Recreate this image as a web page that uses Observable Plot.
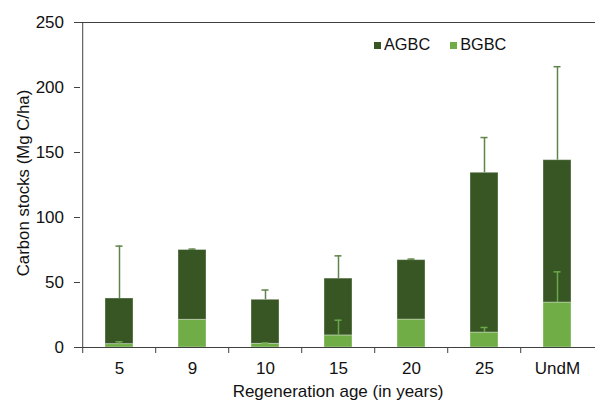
<!DOCTYPE html>
<html>
<head>
<meta charset="utf-8">
<script src="https://cdn.jsdelivr.net/npm/d3@7"></script>
<script src="https://cdn.jsdelivr.net/npm/@observablehq/plot@0.6"></script>
<style>
  html, body { margin: 0; padding: 0; background: #fff; }
  #wrap { position: relative; width: 595px; height: 402px; font-family: "Liberation Sans", Arial, sans-serif; color: #111; }
  .ytitle { position: absolute; left: 24px; top: 183px; transform: translate(-50%, -50%) rotate(-90deg); font-size: 16.8px; line-height: 1; white-space: nowrap; }
  .xtitle { position: absolute; left: 338px; top: 382.5px; transform: translateX(-50%); font-size: 17px; line-height: 1; white-space: nowrap; }
  .legend { position: absolute; left: 374px; top: 35.5px; font-size: 16.3px; line-height: 1; display: flex; gap: 20px; white-space: nowrap; }
  .legend span.sw { display: inline-block; width: 7px; height: 7px; margin-right: 3px; vertical-align: 1px; }
</style>
</head>
<body>
<div id="wrap"></div>
<script>
const categories = ["5", "9", "10", "15", "20", "25", "UndM"];
const seriesNames = ["AGBC", "BGBC"];
const seriesColors = ["#375623", "#70AD47"];
const bgbc = [2.6, 21.3, 2.8, 9.3, 21.5, 11.5, 34.6];
const agbc = [35.1, 53.7, 33.9, 43.7, 45.7, 122.9, 109.5];
const agbcErr = [40.3, 0.7, 7.5, 17.5, 0.8, 27.1, 71.9];
const bgbcErr = [1.8, 0, 0.7, 11.7, 0, 3.9, 23.6];
const yTicks = [0, 50, 100, 150, 200, 250];
const xTitle = "Regeneration age (in years)";
const yTitle = "Carbon stocks (Mg C/ha)";

const W = 595, H = 402, ML = 80, MR = 0, MT = 22, MB = 55;
const step = (W - ML - MR) / categories.length;
const pInner = 0.62;
const bandW = step * (1 - pInner);

const rows = [];
categories.forEach((c, i) => {
  rows.push({cat: c, series: "BGBC", value: bgbc[i]});
  rows.push({cat: c, series: "AGBC", value: agbc[i]});
});
const errA = categories.map((c, i) => ({cat: c, base: bgbc[i] + agbc[i], top: bgbc[i] + agbc[i] + agbcErr[i]}));
const errB = categories.map((c, i) => ({cat: c, base: bgbc[i], top: bgbc[i] + bgbcErr[i], e: bgbcErr[i]})).filter(d => d.e > 0);

const capInset = (bandW - 7) / 2;

const chart = Plot.plot({
  width: W, height: H,
  marginLeft: ML, marginRight: MR, marginTop: MT, marginBottom: MB,
  style: {fontFamily: '"Liberation Sans", Arial, sans-serif', fontSize: "17px", color: "#111", background: "white", overflow: "visible"},
  x: {domain: categories, paddingInner: pInner, paddingOuter: pInner / 2, label: null},
  y: {domain: [0, 250], label: null},
  color: {domain: seriesNames, range: seriesColors},
  marks: [
    Plot.ruleY([yTicks[yTicks.length - 1]], {stroke: "#404040", strokeWidth: 1}),
    Plot.barY(rows, {x: "cat", y: "value", fill: "series", order: ["BGBC", "AGBC"], stroke: "white", strokeOpacity: 0.35, strokeWidth: 1}),
    Plot.ruleX(errA, {x: "cat", y1: "base", y2: "top", stroke: "#5e8449", strokeWidth: 1.5}),
    Plot.tickY(errA, {x: "cat", y: "top", stroke: "#5e8449", strokeWidth: 1.5, insetLeft: capInset, insetRight: capInset}),
    Plot.ruleX(errB, {x: "cat", y1: "base", y2: "top", stroke: "#6aa84a", strokeWidth: 1.5}),
    Plot.tickY(errB, {x: "cat", y: "top", stroke: "#6aa84a", strokeWidth: 1.5, insetLeft: capInset, insetRight: capInset}),
    Plot.ruleY([0], {stroke: "#404040", strokeWidth: 1}),
    Plot.ruleX([categories[0]], {x: d => d, y1: yTicks[0], y2: yTicks[yTicks.length - 1], dx: -step / 2, stroke: "#404040", strokeWidth: 1}),
    Plot.axisY({ticks: yTicks, tickSize: 6, tickPadding: 10.5, stroke: "#404040", fill: "#111", fontSize: 17, label: null}),
    Plot.axisX({tickSize: 0, tickPadding: 14.2, fill: "#111", fontSize: 17, label: null}),
    Plot.axisX({tickSize: 6, tickFormat: () => "", stroke: "#404040", dx: -step / 2, label: null})
  ]
});

const wrap = document.getElementById("wrap");
wrap.appendChild(chart);

const yt = document.createElement("div");
yt.className = "ytitle"; yt.textContent = yTitle; wrap.appendChild(yt);
const xt = document.createElement("div");
xt.className = "xtitle"; xt.textContent = xTitle; wrap.appendChild(xt);

const lg = document.createElement("div");
lg.className = "legend";
seriesNames.forEach((n, i) => {
  const it = document.createElement("div");
  const sw = document.createElement("span");
  sw.className = "sw"; sw.style.background = seriesColors[i];
  it.appendChild(sw);
  it.appendChild(document.createTextNode(n));
  lg.appendChild(it);
});
wrap.appendChild(lg);
</script>
</body>
</html>
